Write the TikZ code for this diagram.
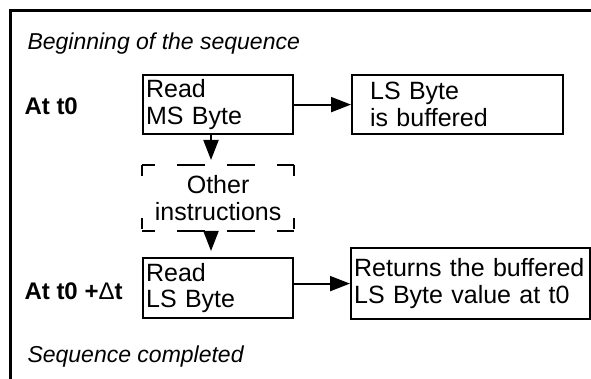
\documentclass[tikz,border=0pt]{standalone}
\usepackage{fontspec}
\setmainfont{Liberation Sans}
\usetikzlibrary{arrows.meta}
\tikzset{
    lab/.style={
        font=\fontsize{24}{26}\selectfont\bfseries
    },
    note/.style={
        font=\fontsize{23}{26}\selectfont\itshape
    },
    stepbox/.style={
        draw, line width=2.2pt, anchor=north west, align=left,
        inner xsep=3pt, inner ysep=0pt,
        font=\fontsize{25}{26.5}\selectfont
    },
    dashside/.style={line width=2.2pt, dash pattern=on 28pt off 22pt, dash phase=15pt},
    dashend/.style={line width=2.2pt, dash pattern=on 11pt off 42pt},
    flow/.style={line width=2pt, -{Triangle[length=20pt,width=15pt]}}
}

\begin{document}
\begin{tikzpicture}[x=1pt,y=-1pt,line join=miter]

% --- page size of the reference ---
    \useasboundingbox (0,0) rectangle (591,379);

% open frame (left side and top)
    \draw[line width=3pt] (10,381) -- (10,11) -- (593,11);

% boxes
    \node[stepbox, minimum width=150pt, minimum height=59pt, text width=144pt]
        (msread) at (142,74) {Read\\MS Byte};
    \node[stepbox, minimum width=211pt, minimum height=59pt, text width=175pt, inner xsep=18pt]
        (buffer) at (351,74) {LS Byte\\is buffered};
    \node[stepbox, draw=none, align=center, minimum width=150pt, minimum height=64pt, text width=144pt]
        (other) at (142,165) {Other\\instructions};
    \node[stepbox, minimum width=150pt, minimum height=60pt, text width=144pt]
        (lsread) at (142,257) {Read\\LS Byte};
    \node[stepbox, minimum width=239pt, minimum height=71pt, text width=233pt]
        (result) at (350,247) {Returns the buffered\\LS Byte value at t0};

% dashed outline of the other instructions
    \draw[dashside] (other.north west) -- (other.north east);
    \draw[dashside] (other.south west) -- (other.south east);
    \draw[dashend] (other.north west) -- (other.south west);
    \draw[dashend] (other.north east) -- (other.south east);

% connectors
    \coordinate (ax) at (211,0);
    \draw[flow] (msread) -- (buffer);
    \draw[flow, shorten >=5pt] (msread.south -| ax) -- (other.north -| ax);
    \draw[flow, shorten >=6pt] (other.south -| ax) -- (lsread.north -| ax);
    \draw[flow] (lsread.east |- result.west) -- (result.west);

% time labels
    \node[lab, anchor=west] (tzero) at (21,106) {At t0};
    \node[lab, anchor=west] (tdelta) at (21,291) {At t0 +{\mdseries Δ}t};

% start and end notes
    \node[note, anchor=base west] (start) at (24,50) {Beginning of the sequence};
    \node[note, anchor=base west] (done) at (24,362) {Sequence completed};

  \end{tikzpicture}
\end{document}
